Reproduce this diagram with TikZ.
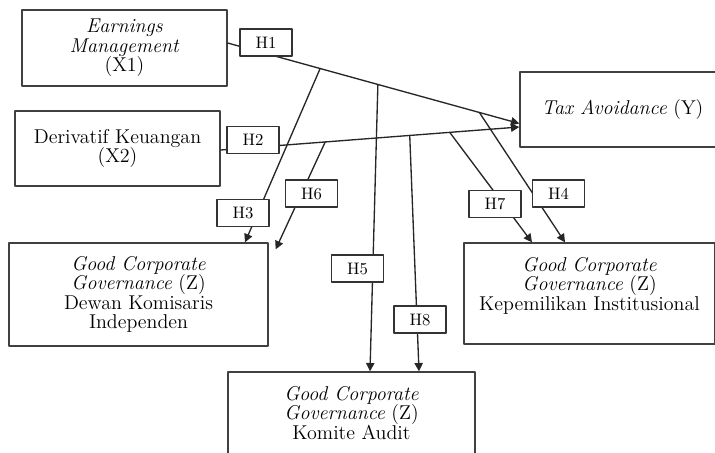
\documentclass[tikz,border=0pt]{standalone}
\usetikzlibrary{arrows.meta,calc}
\newlength\pxu
\setlength\pxu{0.6pt}
\begin{document}
\begin{tikzpicture}[x=0.6pt,y=-0.6pt,line cap=round,line join=round,
  varbox/.style={draw=black!75,line width=0.8pt,align=center,inner sep=0pt,
    font=\fontsize{12}{11.7}\selectfont},
  hbox/.style={draw=black!80,fill=white,line width=0.8pt,minimum width=52\pxu,
    minimum height=27\pxu,inner sep=0pt,font=\fontsize{10}{12}\selectfont},
  link/.style={draw=black!85,line width=0.8pt},
  linkarr/.style={link,-{Triangle[length=5pt,width=5pt]}}]
  \useasboundingbox (0,0) rectangle (715,452);
  \clip (0,0) rectangle (715,452);
  \node[varbox,minimum width=205\pxu,minimum height=76\pxu] (x1) at (124.5,48) {\textit{Earnings}\\\textit{Management}\\(X1)};
  \node[varbox,minimum width=205\pxu,minimum height=75\pxu] (x2) at (117.5,148.5) {Derivatif Keuangan\\(X2)};
  \node[varbox,minimum width=205\pxu,minimum height=75\pxu] (y) at (622.5,109.5) {\textit{Tax Avoidance} (Y)};
  \node[varbox,minimum width=259\pxu,minimum height=103\pxu] (dki) at (138.5,294.5) {\textit{Good Corporate}\\\textit{Governance} (Z)\\Dewan Komisaris\\Independen};
  \node[varbox,minimum width=251\pxu,minimum height=101\pxu] (ki) at (589.5,293.5) {\textit{Good Corporate}\\\textit{Governance} (Z)\\Kepemilikan Institusional\\\mbox{}};
  \node[varbox,minimum width=247\pxu,minimum height=82\pxu] (ka) at (351.5,413) {\textit{Good Corporate}\\\textit{Governance} (Z)\\Komite Audit};
  \coordinate (a1) at ($(x1.east)+(0,-5)$);
  \coordinate (t1) at ($(y.west)+(0,14)$);
  \coordinate (a2) at ($(x2.east)+(0,1.5)$);
  \coordinate (t2) at ($(y.west)+(0,17.5)$);
  \coordinate (b3) at ($(a1)!0.317!(t1)$);
  \coordinate (b5) at ($(a1)!0.515!(t1)$);
  \coordinate (b4) at ($(a1)!0.863!(t1)$);
  \coordinate (b6) at ($(a2)!0.35!(t2)$);
  \coordinate (b8) at ($(a2)!0.633!(t2)$);
  \coordinate (b7) at ($(a2)!0.767!(t2)$);
  \coordinate (e3) at ($(dki.north)+(106.5,0)$);
  \coordinate (e6) at ($(dki.north east)+(7,7)$);
  \coordinate (e5) at ($(ka.north)+(18.5,0)$);
  \coordinate (e8) at ($(ka.north)+(67.5,0)$);
  \coordinate (e7) at ($(ki.north)+(-57.5,0)$);
  \coordinate (e4) at ($(ki.north)+(-24.5,0)$);
  \draw[linkarr] (a1) -- (t1);
  \draw[linkarr] (a2) -- (t2);
  \foreach \s/\e in {b3/e3,b5/e5,b4/e4,b6/e6,b8/e8,b7/e7} {\draw[linkarr] (\s) -- (\e);}
  \foreach \n/\hx/\hy in {1/266/42.5,2/253/140,3/243/213,4/558.5/193.5,5/357.5/268.5,6/311.5/193.5,7/495/204,8/420/319.5}
    {\node[hbox] (h\n) at (\hx,\hy) {H\n};}
\end{tikzpicture}
\end{document}
